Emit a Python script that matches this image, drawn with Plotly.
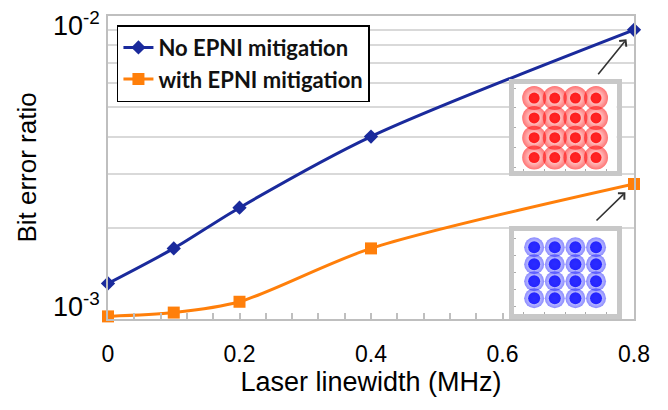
import math
import plotly.graph_objects as go

# ---- data ----
linewidth_mhz = [0.0, 0.1, 0.2, 0.4, 0.8]
ber_no_mitigation = [1.31e-3, 1.71e-3, 2.33e-3, 4.0e-3, 9.0e-3]
ber_with_mitigation = [1.02e-3, 1.05e-3, 1.14e-3, 1.71e-3, 2.79e-3]
series_names = ["No EPNI mitigation", "with EPNI mitigation"]

x_tick_vals = [0, 0.2, 0.4, 0.6, 0.8]
x_tick_text = ["0", "0.2", "0.4", "0.6", "0.8"]
y_grid_vals = [1e-3, 2e-3, 3e-3, 4e-3, 5e-3, 6e-3, 7e-3, 8e-3, 9e-3, 1e-2]
y_label_vals = [1e-3, 1e-2]
y_label_text = ["10<sup>-3</sup>", "10<sup>-2</sup>"]

# 16-QAM constellation levels for the two insets
qam_levels = [-3, -1, 1, 3]

BLUE = "#1a2a9c"
ORANGE = "#ff7f0a"
GRID = "#d9d9d9"
AXIS = "#bfbfbf"

fig = go.Figure()

fig.add_trace(go.Scatter(
    x=linewidth_mhz, y=ber_no_mitigation, name=series_names[0],
    mode="lines+markers", line=dict(color=BLUE, width=3, shape="spline", smoothing=0.8),
    marker=dict(symbol="diamond", size=11, color=BLUE), cliponaxis=False,
))
fig.add_trace(go.Scatter(
    x=linewidth_mhz, y=ber_with_mitigation, name=series_names[1],
    mode="lines+markers", line=dict(color=ORANGE, width=3, shape="spline", smoothing=0.8),
    marker=dict(symbol="square", size=12, color=ORANGE), cliponaxis=False,
))

# constellation insets
ci = [i for i in qam_levels for q in qam_levels]
cq = [q for i in qam_levels for q in qam_levels]

def add_constellation(xa, ya, rgb, halo, halo_alpha, core, core_alpha):
    fig.add_trace(go.Scatter(
        x=ci, y=cq, xaxis=xa, yaxis=ya, mode="markers", showlegend=False, hoverinfo="skip",
        marker=dict(size=halo, color=f"rgba({rgb},{halo_alpha})", line=dict(width=0),
                    gradient=dict(type="radial", color=f"rgba({rgb},0)")),
    ))
    fig.add_trace(go.Scatter(
        x=ci, y=cq, xaxis=xa, yaxis=ya, mode="markers", showlegend=False, hoverinfo="skip",
        marker=dict(size=core, color=f"rgba({rgb},{core_alpha})", line=dict(width=0)),
    ))

add_constellation("x2", "y2", "255,0,0", 24, 0.55, 11, 0.85)
add_constellation("x3", "y3", "20,20,255", 20, 0.5, 12, 0.9)

inset_axis = dict(showline=True, linewidth=5, linecolor="#c8c8c8", mirror=True,
                  showgrid=False, zeroline=False, showticklabels=False,
                  ticks="inside", ticklen=2, tickcolor="#aaaaaa", dtick=2)

fig.update_layout(
    width=668, height=410,
    margin=dict(l=100, r=42, t=6, b=99),
    paper_bgcolor="white", plot_bgcolor="white",
    font=dict(family="Liberation Sans, Arial, sans-serif", color="#000000"),
    showlegend=True,
    legend=dict(x=0.017, y=0.97, xanchor="left", yanchor="top",
                bgcolor="white", bordercolor="#000000", borderwidth=1.5,
                font=dict(family="Lato, Open Sans, sans-serif", size=22, weight=700, color="#111111"),
                itemwidth=30),
    xaxis=dict(range=[0, 0.8], tickvals=x_tick_vals, ticktext=x_tick_text,
               tickfont=dict(size=23), ticklabelstandoff=13,
               showline=True, linecolor=AXIS, linewidth=2, mirror=True,
               ticks="inside", ticklen=6, tickcolor=AXIS, tickwidth=1.5,
               minor=dict(dtick=0.04, ticks="inside", ticklen=6, tickcolor=AXIS, tickwidth=1.5, showgrid=False),
               showgrid=False, zeroline=False,
               title=dict(text="Laser linewidth (MHz)", font=dict(size=27), standoff=4)),
    yaxis=dict(type="log", range=[-3, -2], tickvals=y_grid_vals, ticktext=[""] * len(y_grid_vals),
               showticklabels=False, showgrid=True, gridcolor=GRID, gridwidth=2,
               showline=True, linecolor=AXIS, linewidth=2, mirror=True, ticks="",
               zeroline=False,
               title=dict(text="Bit error ratio", font=dict(size=26), standoff=62)),
    xaxis2=dict(domain=[0.771, 0.967], range=[-5, 5], anchor="y2", **inset_axis),
    yaxis2=dict(domain=[0.487, 0.775], range=[-4.4, 4.4], anchor="x2", **inset_axis),
    xaxis3=dict(domain=[0.771, 0.967], range=[-5, 5], anchor="y3", **inset_axis),
    yaxis3=dict(domain=[0.015, 0.290], range=[-4.9, 4.9], anchor="x3", **inset_axis),
)

# y tick labels (log decades)
for v, t, shift in zip(y_label_vals, y_label_text, [14, -8]):
    fig.add_annotation(x=0, xref="paper", y=math.log10(v), yref="y", text=t,
                       showarrow=False, xanchor="right", yanchor="middle",
                       xshift=-6, yshift=shift, font=dict(size=27))

# arrows pointing from the insets to the 0.8 MHz points
for yv, ax, ay in [(ber_no_mitigation[-1], -37, 46), (ber_with_mitigation[-1], -39, 38)]:
    fig.add_annotation(x=linewidth_mhz[-1], y=math.log10(yv), xref="x", yref="y",
                       ax=ax, ay=ay, axref="pixel", ayref="pixel", text="",
                       showarrow=True, arrowhead=4, arrowsize=1.1, arrowwidth=1.6,
                       arrowcolor="#333333", standoff=12)

fig.write_html("out.html")
